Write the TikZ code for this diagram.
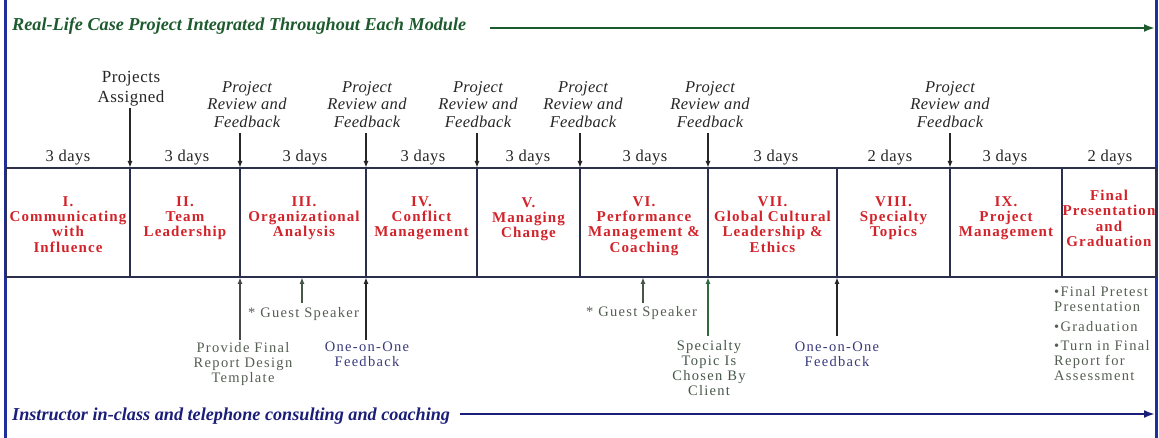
\documentclass[tikz,border=0pt]{standalone}
\usepackage{fontspec}
\setmainfont{Liberation Serif}
\newfontfamily\trk[LetterSpace=9]{Liberation Serif}
\newfontfamily\trkM[LetterSpace=7.5]{Liberation Serif}
\newfontfamily\trkA[LetterSpace=3]{Liberation Serif}
\newfontfamily\trkB[LetterSpace=2]{Liberation Serif}
\usetikzlibrary{arrows.meta}
\definecolor{ttlgreen}{HTML}{1D5B2E}
\definecolor{ttlnavy}{HTML}{1B1E78}
\definecolor{frameblue}{HTML}{1F2E9C}
\definecolor{boxline}{HTML}{2C2F4C}
\definecolor{modred}{HTML}{D2232A}
\definecolor{notegrey}{HTML}{555E53}
\definecolor{notenavy}{HTML}{383A7C}
\definecolor{notegreen}{HTML}{46574A}
\definecolor{arrgreen}{HTML}{2F6B3C}
\definecolor{txtdark}{HTML}{262626}
\tikzset{
  cellbox/.style={draw=boxline, line width=1.6pt, minimum height=109pt, inner sep=0pt, outer sep=0pt, anchor=north west},
  modtxt/.style={text=modred, font=\trkM\bfseries\fontsize{15}{15.2}\selectfont, align=center, anchor=north, inner sep=0pt},
  daytxt/.style={text=txtdark, font=\trkA\fontsize{16.5}{18}\selectfont, anchor=base, inner sep=0pt},
  asgtxt/.style={text=txtdark, font=\trkA\fontsize{17}{20}\selectfont, align=center, anchor=north, inner sep=0pt},
  revtxt/.style={text=txtdark, font=\trkB\itshape\fontsize{16.5}{17.5}\selectfont, align=center, anchor=north, inner sep=0pt},
  notetxt/.style={font=\trk\fontsize{14.5}{15}\selectfont, align=center, anchor=north, inner sep=0pt},
  titletxt/.style={font=\bfseries\itshape\fontsize{18.2}{20}\selectfont, anchor=base west, inner sep=0pt},
  bigarrow/.style={line width=2.4pt, -{Latex[length=11pt,width=8pt]}},
  smallarr/.style={line width=1.4pt, -{Latex[length=7pt,width=5pt]}},
  frameline/.style={draw=frameblue, line width=2.6pt}
}
\begin{document}
\begin{tikzpicture}[x=1pt,y=-1pt]
\useasboundingbox (0,0) rectangle (1159,438);
% frame side lines
\coordinate (fl1) at (5.5,0); \coordinate (fl2) at (5.5,438);
\coordinate (fr1) at (1156.5,0); \coordinate (fr2) at (1156.5,438);
\draw[frameline] (fl1) -- (fl2);
\draw[frameline] (fr1) -- (fr2);
% titles and long arrows
\node[titletxt, text=ttlgreen] (tt) at (12,31) {Real-Life Case Project Integrated Throughout Each Module};
\coordinate (tta) at (490,28); \coordinate (ttb) at (1155,28);
\draw[bigarrow, ttlgreen] (tta) -- (ttb);
\node[titletxt, text=ttlnavy] (tb) at (12,420) {Instructor in-class and telephone consulting and coaching};
\coordinate (tba) at (460,414); \coordinate (tbb) at (1155,414);
\draw[bigarrow, ttlnavy] (tba) -- (tbb);
% cells
\node[cellbox, minimum width=124pt] (c1) at (6,168) {};
\node[cellbox, minimum width=110pt] (c2) at (130,168) {};
\node[cellbox, minimum width=126pt] (c3) at (240,168) {};
\node[cellbox, minimum width=111pt] (c4) at (366,168) {};
\node[cellbox, minimum width=103pt] (c5) at (477,168) {};
\node[cellbox, minimum width=128pt] (c6) at (580,168) {};
\node[cellbox, minimum width=129pt] (c7) at (708,168) {};
\node[cellbox, minimum width=113pt] (c8) at (837,168) {};
\node[cellbox, minimum width=112pt] (c9) at (950,168) {};
\node[cellbox, minimum width=94pt] (c10) at (1062,168) {};
% module texts
\node[modtxt] (m1) at (68,196.5) {I.\\Communicating\\with\\Influence};
\node[modtxt] (m2) at (185,196.5) {II.\\Team\\Leadership};
\node[modtxt] (m3) at (304,196.5) {III.\\Organizational\\Analysis};
\node[modtxt] (m4) at (421.5,196.5) {IV.\\Conflict\\Management};
\node[modtxt] (m5) at (528.5,197.5) {V.\\Managing\\Change};
\node[modtxt] (m6) at (644,196.5) {VI.\\Performance\\Management \&\\Coaching};
\node[modtxt] (m7) at (772.5,196.5) {VII.\\Global Cultural\\Leadership \&\\Ethics};
\node[modtxt] (m8) at (893.5,196.5) {VIII.\\Specialty\\Topics};
\node[modtxt] (m9) at (1006,196.5) {IX.\\Project\\Management};
\node[modtxt] (m10) at (1109,190) {Final\\Presentation\\and\\Graduation};
% day labels
\node[daytxt] (d1) at (68,162) {3 days};
\node[daytxt] (d2) at (187,162) {3 days};
\node[daytxt] (d3) at (305,162) {3 days};
\node[daytxt] (d4) at (423,162) {3 days};
\node[daytxt] (d5) at (528,162) {3 days};
\node[daytxt] (d6) at (645,162) {3 days};
\node[daytxt] (d7) at (776,162) {3 days};
\node[daytxt] (d8) at (890,162) {2 days};
\node[daytxt] (d9) at (1005,162) {3 days};
\node[daytxt] (d10) at (1110,162) {2 days};
% labels above
\node[asgtxt] (pa) at (131,71) {Projects\\Assigned};
\node[revtxt] (r1) at (247,81) {Project\\Review and\\Feedback};
\node[revtxt] (r2) at (367,81) {Project\\Review and\\Feedback};
\node[revtxt] (r3) at (478,81) {Project\\Review and\\Feedback};
\node[revtxt] (r4) at (583,81) {Project\\Review and\\Feedback};
\node[revtxt] (r5) at (710,81) {Project\\Review and\\Feedback};
\node[revtxt] (r6) at (950,81) {Project\\Review and\\Feedback};
% arrows above
\coordinate (pas) at (130,108);
\coordinate (r1s) at (240,133);
\coordinate (r2s) at (366,133);
\coordinate (r3s) at (477,133);
\coordinate (r4s) at (580,133);
\coordinate (r5s) at (708,133);
\coordinate (r6s) at (950,133);
\draw[smallarr, txtdark] (pas) -- (c2.north west);
\draw[smallarr, txtdark] (r1s) -- (c3.north west);
\draw[smallarr, txtdark] (r2s) -- (c4.north west);
\draw[smallarr, txtdark] (r3s) -- (c5.north west);
\draw[smallarr, txtdark] (r4s) -- (c6.north west);
\draw[smallarr, txtdark] (r5s) -- (c7.north west);
\draw[smallarr, txtdark] (r6s) -- (c9.north west);
% notes below
\node[notetxt, text=notegrey] (pf) at (243,342.5) {Provide Final\\Report Design\\Template};
\node[notetxt, text=notegrey, anchor=base west] (g1) at (248,317.5) {* Guest Speaker};
\node[notetxt, text=notenavy] (o1) at (367,341.5) {One-on-One\\Feedback};
\node[notetxt, text=notegrey, anchor=base west] (g2) at (586,316.5) {* Guest Speaker};
\node[notetxt, text=notegreen] (sp) at (709,340.5) {Specialty\\Topic Is\\Chosen By\\Client};
\node[notetxt, text=notenavy] (o2) at (837,341.5) {One-on-One\\Feedback};
\node[notetxt, text=notegrey, align=left, anchor=north west] (bl) at (1054,286.5) {\textbullet Final Pretest\\Presentation\\[5pt]\textbullet Graduation\\[4pt]\textbullet Turn in Final\\Report for\\Assessment};
% arrows below
\coordinate (pfs) at (240,340);
\coordinate (g1s) at (302,303);
\coordinate (g1e) at (302,277);
\coordinate (o1s) at (366,340);
\coordinate (g2s) at (643,303);
\coordinate (g2e) at (643,277);
\coordinate (sps) at (708,336);
\coordinate (o2s) at (837,336);
\draw[smallarr, txtdark!85] (pfs) -- (c3.south west);
\draw[smallarr, notegreen] (g1s) -- (g1e);
\draw[smallarr, txtdark] (o1s) -- (c4.south west);
\draw[smallarr, notegreen] (g2s) -- (g2e);
\draw[smallarr, arrgreen] (sps) -- (c7.south west);
\draw[smallarr, txtdark] (o2s) -- (c8.south west);
\end{tikzpicture}
\end{document}
